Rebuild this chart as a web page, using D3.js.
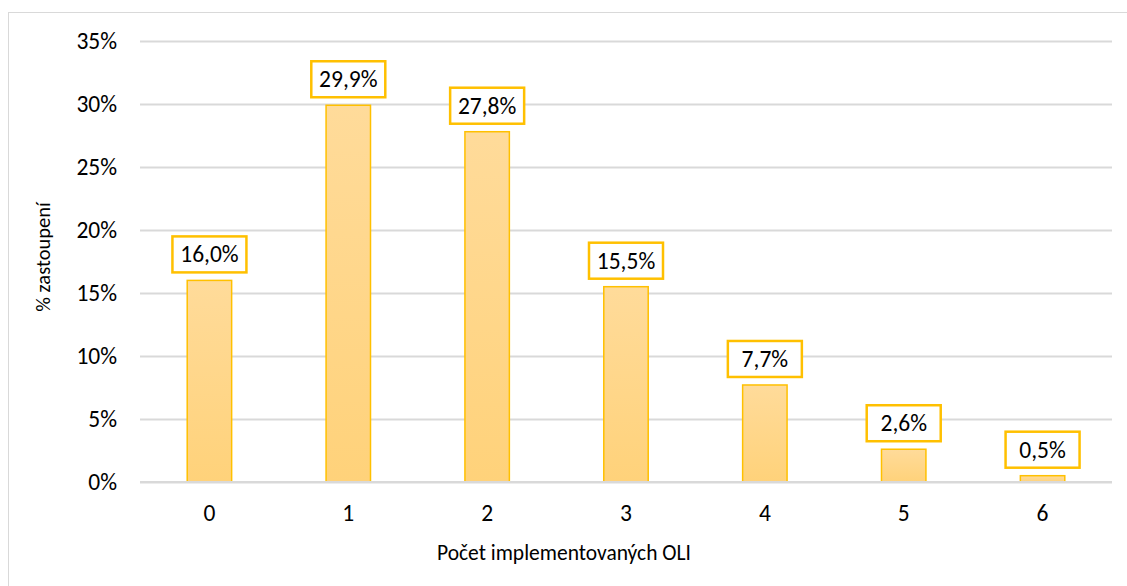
<!DOCTYPE html>
<html>
<head>
<meta charset="utf-8">
<script src="https://cdn.jsdelivr.net/npm/d3@7"></script>
<style>
  html, body { margin: 0; padding: 0; background: #fff; }
  svg { display: block; }
  text { font-family: Carlito, "Open Sans", "Liberation Sans", sans-serif; fill: #000; }
</style>
</head>
<body>
<svg id="chart" width="1127" height="586"></svg>
<script>
// Počet implementovaných OLI a jejich procentuální zastoupení
const categories = ["0", "1", "2", "3", "4", "5", "6"];
const shares = [16.0, 29.9, 27.8, 15.5, 7.7, 2.6, 0.5];
const yTicks = [0, 5, 10, 15, 20, 25, 30, 35];
const xTitle = "Počet implementovaných OLI";
const yTitle = "% zastoupení";

const svg = d3.select("#chart");
const margin = { left: 140, right: 15, top: 41, bottom: 104 };
const W = 1127, H = 586;

// chart frame
svg.append("rect")
  .attr("x", 8.5).attr("y", 12.5)
  .attr("width", W + 10).attr("height", H + 10)
  .attr("fill", "#fff").attr("stroke", "#d9d9d9").attr("stroke-width", 1);

const x = d3.scaleBand().domain(categories)
  .range([margin.left, W - margin.right]).paddingInner(0.68).paddingOuter(0.34);
const y = d3.scaleLinear().domain([0, 35]).range([H - margin.bottom, margin.top]);

// gradient fill for bars
const defs = svg.append("defs");
const grad = defs.append("linearGradient").attr("id", "barFill")
  .attr("x1", 0).attr("y1", 0).attr("x2", 0).attr("y2", 1);
grad.append("stop").attr("offset", "0%").attr("stop-color", "#FFDB9A");
grad.append("stop").attr("offset", "100%").attr("stop-color", "#FFD27A");

// gridlines
const yAxis = d3.axisLeft(y).tickValues(yTicks)
  .tickFormat(d => d + "%")
  .tickSize(-(W - margin.right - margin.left)).tickPadding(23);
const gy = svg.append("g").attr("transform", `translate(${margin.left},0)`).call(yAxis);
gy.select(".domain").remove();
gy.selectAll(".tick line").attr("stroke", "#d9d9d9").attr("stroke-width", 2);
gy.selectAll(".tick text").attr("font-size", 23.5).attr("fill", "#000");

// bars
svg.append("g").selectAll("rect").data(shares).join("rect")
  .attr("x", (d, i) => x(categories[i]))
  .attr("y", d => y(d))
  .attr("width", x.bandwidth())
  .attr("height", d => y(0) - y(d))
  .attr("fill", "url(#barFill)")
  .attr("stroke", "#FFC000").attr("stroke-width", 1.5);

// baseline on top of bars
svg.append("line")
  .attr("x1", margin.left).attr("x2", W - margin.right)
  .attr("y1", y(0)).attr("y2", y(0))
  .attr("stroke", "#d9d9d9").attr("stroke-width", 2);

// x axis labels
const xAxis = d3.axisBottom(x).tickSize(0).tickPadding(22);
const gx = svg.append("g").attr("transform", `translate(0,${y(0)})`).call(xAxis);
gx.select(".domain").remove();
gx.selectAll(".tick text").attr("font-size", 23.5).attr("fill", "#000");

// value labels in boxes
const fmt = v => v.toFixed(1).replace(".", ",") + "%";
const lbl = svg.append("g").selectAll("g").data(shares).join("g")
  .attr("transform", (d, i) => `translate(${x(categories[i]) + x.bandwidth() / 2},${y(d) - 8})`);
lbl.append("rect")
  .attr("x", -37).attr("y", -36).attr("width", 74).attr("height", 36)
  .attr("fill", "#fff").attr("stroke", "#FFC000").attr("stroke-width", 2.5);
lbl.append("text")
  .attr("text-anchor", "middle").attr("y", -10)
  .attr("font-size", 23.5).text(d => fmt(d));

// axis titles
svg.append("text")
  .attr("x", 564).attr("y", 560)
  .attr("text-anchor", "middle").attr("font-size", 21.5).text(xTitle);
svg.append("text")
  .attr("transform", `translate(50,257) rotate(-90)`)
  .attr("text-anchor", "middle").attr("font-size", 20.5).text(yTitle);
</script>
</body>
</html>
